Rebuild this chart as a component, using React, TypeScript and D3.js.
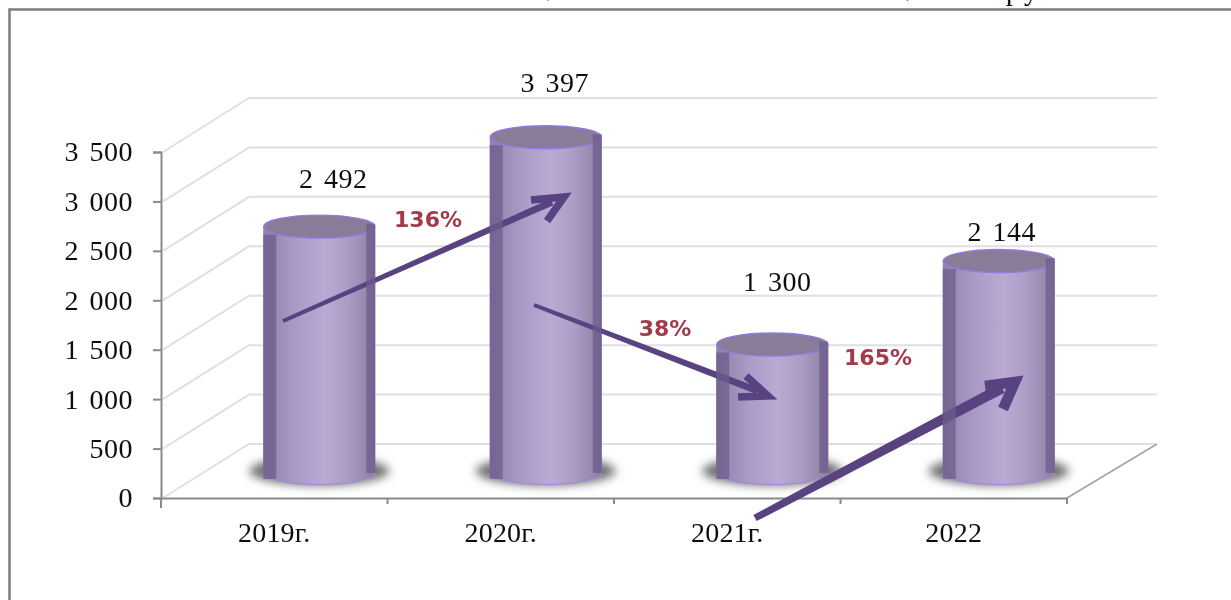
import * as d3 from "d3";
import { useEffect, useRef } from "react";

const years = ["2019г.", "2020г.", "2021г.", "2022"];
const values = [2492, 3397, 1300, 2144];
const yTicks = [0, 500, 1000, 1500, 2000, 2500, 3000, 3500];
const changes = ["136%", "38%", "165%"];
const clippedGlyphs = ["(", ")", "р", "у"];

const W = 1231;
const H = 600;

export default function App() {
  const ref = useRef<SVGSVGElement>(null);

  useEffect(() => {
    const svg = d3.select(ref.current!);
    svg.selectAll("*").remove();

    const serif = "'Liberation Serif', serif";
    const spacedNum = d3.formatLocale({
      decimal: ",",
      thousands: " ",
      grouping: [3],
      currency: ["", ""],
    }).format(",d");

    // plot box and the depth of the fake 3d wall
    const x = d3.scaleBand<string>().domain(years).range([161, 1067]);
    const y = d3.scaleLinear().domain([0, 3500]).range([498, 152]);
    const depth = { dx: 88, dy: -54 };
    const barDepth = { dx: 45, dy: -25 };
    const rx = 56;
    const ry = 11.5;
    const cx = (d: string) => x(d)! + x.bandwidth() / 2 + barDepth.dx;

    // defs
    const defs = svg.append("defs");
    const grad = defs
      .append("linearGradient")
      .attr("id", "body")
      .attr("x1", 0)
      .attr("x2", 1)
      .attr("y1", 0)
      .attr("y2", 0);
    [
      [0, "#8f7fae"],
      [0.14, "#9c8db8"],
      [0.3, "#ab9bc8"],
      [0.55, "#b9a9d3"],
      [0.75, "#ac9cc6"],
      [0.92, "#9788ae"],
      [1, "#8b7ca3"],
    ].forEach(([o, c]) => {
      grad.append("stop").attr("offset", o).attr("stop-color", c);
    });
    defs
      .append("filter")
      .attr("id", "shadow")
      .attr("x", "-30%")
      .attr("y", "-100%")
      .attr("width", "160%")
      .attr("height", "300%")
      .append("feGaussianBlur")
      .attr("stdDeviation", 5);
    defs
      .append("filter")
      .attr("id", "soft")
      .attr("x", "-2%")
      .attr("y", "-2%")
      .attr("width", "104%")
      .attr("height", "104%")
      .append("feGaussianBlur")
      .attr("stdDeviation", 0.6);

    // outer frame and the bits of the cut off heading above it
    svg
      .append("g")
      .attr("font-family", serif)
      .attr("font-size", 27)
      .selectAll("text")
      .data(clippedGlyphs)
      .join("text")
      .attr("x", (_, i) => [540, 906, 1006, 1024][i])
      .attr("y", (_, i) => [-5, -5, 0, 0][i])
      .text((d) => d);
    svg
      .append("path")
      .attr("d", `M9.5 ${H} V9.5 H${W}`)
      .attr("fill", "none")
      .attr("stroke", "#7c7c7c")
      .attr("stroke-width", 2.5);

    const chart = svg.append("g").attr("filter", "url(#soft)");

    // walls
    const grid = chart.append("g").attr("fill", "none");
    grid
      .selectAll("path")
      .data(yTicks)
      .join("path")
      .attr(
        "d",
        (d) =>
          `M${x.range()[0] + 2} ${y(d)} L${x.range()[0] + depth.dx} ${y(d) + depth.dy} H${x.range()[1] + depth.dx + 2}`
      )
      .attr("stroke", "#e0e0e0")
      .attr("stroke-width", 2);
    chart
      .append("path")
      .attr(
        "d",
        `M${x.range()[1]} ${y(0)} L${x.range()[1] + depth.dx + 2} ${y(0) + depth.dy}`
      )
      .attr("stroke", "#a6a6a6")
      .attr("stroke-width", 1.8);

    // axes
    const yAxis = d3
      .axisLeft(y)
      .tickValues(yTicks)
      .tickSize(8)
      .tickPadding(20)
      .tickFormat((d) => spacedNum(d as number));
    const yG = chart
      .append("g")
      .attr("transform", `translate(${x.range()[0]},0)`)
      .call(yAxis);
    const xAxis = d3.axisBottom(x).tickSize(0).tickPadding(24);
    const xG = chart
      .append("g")
      .attr("transform", `translate(0,${y(0)})`)
      .call(xAxis);
    [yG, xG].forEach((g) => {
      g.selectAll("path,line").attr("stroke", "#8a8a8a").attr("stroke-width", 2);
      g.selectAll("text")
        .attr("font-family", serif)
        .attr("font-size", 28)
        .attr("fill", "#111");
    });
    yG.selectAll("text").attr("letter-spacing", 0.5).attr("word-spacing", 3);
    xG.selectAll("text").attr("letter-spacing", 0.2);
    // category separators sit on band edges
    xG.append("g")
      .selectAll("line")
      .data([0, ...years.map((d) => x(d)! + x.bandwidth())])
      .join("line")
      .attr("x1", (d) => (d === 0 ? x.range()[0] : d))
      .attr("x2", (d) => (d === 0 ? x.range()[0] : d))
      .attr("y1", 0)
      .attr("y2", (d) => (d === 0 ? 10 : 6))
      .attr("stroke", "#8a8a8a")
      .attr("stroke-width", 2);

    // cylinders
    const base = y(0) + barDepth.dy;
    const bars = chart
      .append("g")
      .selectAll("g")
      .data(years.map((name, i) => ({ name, value: values[i] })))
      .join("g");
    bars
      .append("ellipse")
      .attr("cx", (d) => cx(d.name))
      .attr("cy", base - 2)
      .attr("rx", rx + 14)
      .attr("ry", ry + 3)
      .attr("fill", "#707070")
      .attr("filter", "url(#shadow)");
    bars
      .append("path")
      .attr("d", (d) => {
        const l = cx(d.name) - rx;
        const r = cx(d.name) + rx;
        const top = y(d.value) + barDepth.dy;
        return `M${l} ${top} V${base} A${rx} ${ry} 0 0 0 ${r} ${base} V${top} Z`;
      })
      .attr("fill", "url(#body)");
    bars
      .append("path")
      .attr("d", (d) => {
        const l = cx(d.name) - rx;
        const r = cx(d.name) + rx;
        return `M${l} ${base} A${rx} ${ry} 0 0 0 ${r} ${base}`;
      })
      .attr("fill", "none")
      .attr("stroke", "#a08fd0")
      .attr("stroke-width", 1.2);
    bars
      .append("ellipse")
      .attr("cx", (d) => cx(d.name))
      .attr("cy", (d) => y(d.value) + barDepth.dy)
      .attr("rx", rx - 0.5)
      .attr("ry", ry)
      .attr("fill", "#8a7c98")
      .attr("stroke", "#8e7ce0")
      .attr("stroke-width", 1.4);

    // arrows, the annotation layer of the slide; shafts get thicker towards the head
    const arrows = [
      { from: [283, 321], to: [552, 202], w0: 4, w1: 7, head: "M531 200 L564 197 L547 221", hw: 7.5 },
      { from: [534, 305], to: [758, 391], w0: 4, w1: 7, head: "M746 376 L768 396 L738 397", hw: 7.5 },
      { from: [755, 518], to: [1002, 388], w0: 7, w1: 11, head: "M985 386 L1015 382 L1003 409", hw: 10.5 },
    ];
    const arrowG = chart.append("g").attr("fill", "none").attr("stroke", "#59427f");
    arrows.forEach((a) => {
      const [x0, y0] = a.from;
      const [x1, y1] = a.to;
      const len = Math.hypot(x1 - x0, y1 - y0);
      const nx = -(y1 - y0) / len;
      const ny = (x1 - x0) / len;
      const shaft = d3.path();
      shaft.moveTo(x0 + (nx * a.w0) / 2, y0 + (ny * a.w0) / 2);
      shaft.lineTo(x1 + (nx * a.w1) / 2, y1 + (ny * a.w1) / 2);
      shaft.lineTo(x1 - (nx * a.w1) / 2, y1 - (ny * a.w1) / 2);
      shaft.lineTo(x0 - (nx * a.w0) / 2, y0 - (ny * a.w0) / 2);
      shaft.closePath();
      arrowG.append("path").attr("d", shaft.toString()).attr("fill", "#59427f").attr("stroke", "none");
      arrowG.append("path").attr("d", a.head).attr("stroke-width", a.hw).attr("stroke-miterlimit", 4);
    });

    // shaded side strips go over the arrows, as in the source
    const strips = chart.append("g").attr("fill", "#6d5b8c").attr("opacity", 0.72);
    strips
      .selectAll("rect.l")
      .data(values)
      .join("rect")
      .attr("class", "l")
      .attr("x", (_, i) => cx(years[i]) - rx)
      .attr("y", (d) => y(d) + barDepth.dy + 8)
      .attr("width", 13)
      .attr("height", (d) => base + 6 - (y(d) + barDepth.dy + 8));
    strips
      .selectAll("rect.r")
      .data(values)
      .join("rect")
      .attr("class", "r")
      .attr("x", (_, i) => cx(years[i]) + rx - 9)
      .attr("y", (d) => y(d) + barDepth.dy - 3)
      .attr("width", 9)
      .attr("height", (d) => base - (y(d) + barDepth.dy - 3));

    // value labels sit by hand next to each cylinder
    const labelShift = [
      [14, -39],
      [9, -45],
      [5, -53],
      [3, -20],
    ];
    chart
      .append("g")
      .attr("font-family", serif)
      .attr("font-size", 28)
      .attr("fill", "#111")
      .attr("text-anchor", "middle")
      .attr("letter-spacing", 0.5)
      .attr("word-spacing", 3)
      .selectAll("text")
      .data(values)
      .join("text")
      .attr("x", (_, i) => cx(years[i]) + labelShift[i][0])
      .attr("y", (d, i) => y(d) + barDepth.dy + labelShift[i][1])
      .text((d) => spacedNum(d));

    // percent labels
    const changePos = [
      [428, 227],
      [665, 336],
      [878, 365],
    ];
    chart
      .append("g")
      .attr("font-family", "'DejaVu Sans', sans-serif")
      .attr("font-weight", "bold")
      .attr("font-size", 22)
      .attr("fill", "#a23a4a")
      .attr("text-anchor", "middle")
      .selectAll("text")
      .data(changes)
      .join("text")
      .attr("x", (_, i) => changePos[i][0])
      .attr("y", (_, i) => changePos[i][1])
      .text((d) => d);
  }, []);

  return (
    <svg
      ref={ref}
      width={W}
      height={H}
      style={{ position: "absolute", left: 0, top: 0, background: "#fff" }}
    ></svg>
  );
}
